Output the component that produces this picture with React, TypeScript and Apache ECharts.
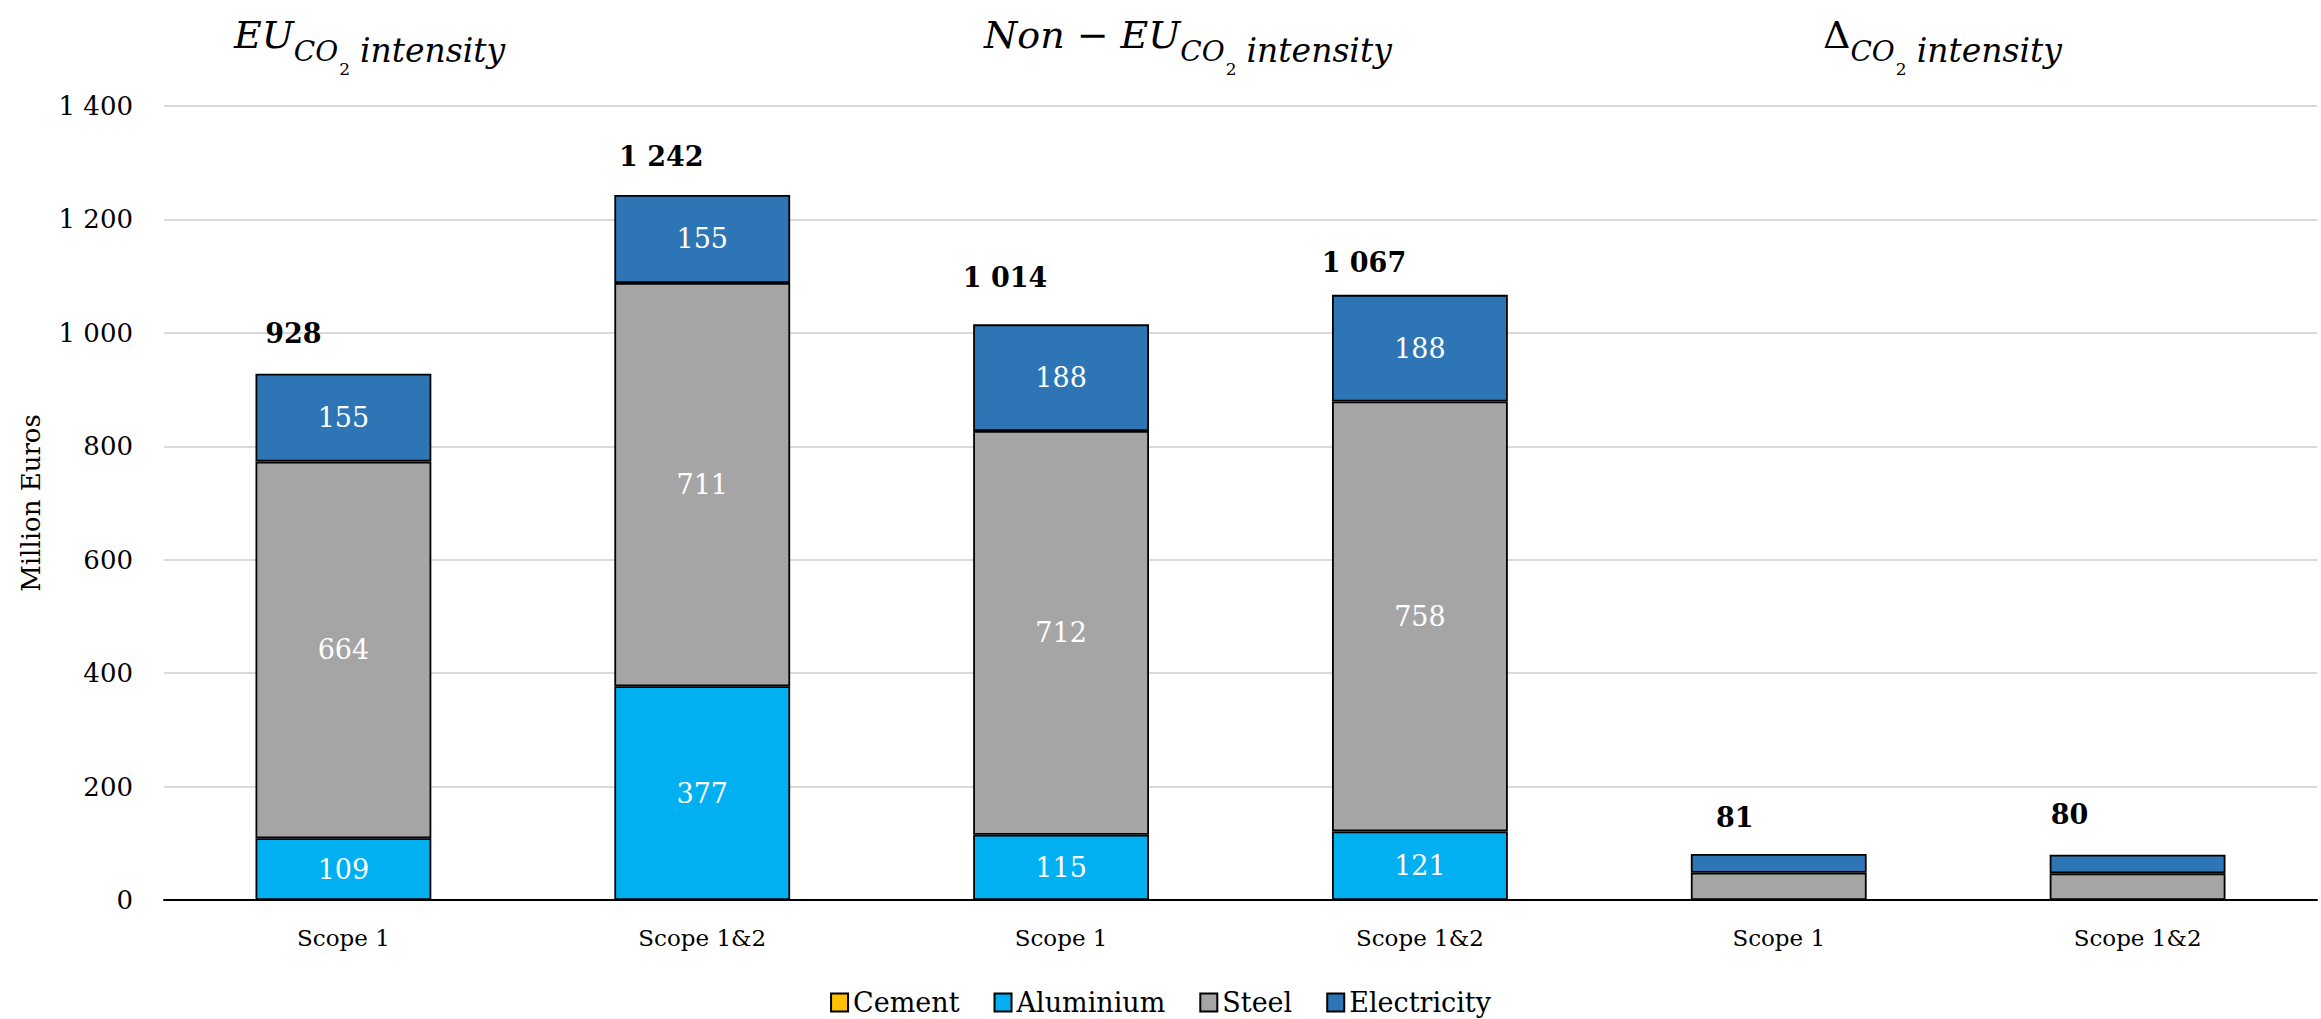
import React, { useEffect, useRef } from "react";
import * as echarts from "echarts";

const categories = ["Scope 1", "Scope 1&2", "Scope 1", "Scope 1&2", "Scope 1", "Scope 1&2"];
const cement = [0, 0, 0, 0, 0, 0];
const aluminium = [109, 377, 115, 121, 0, 0];
const steel = [664, 711, 712, 758, 48, 47];
const electricity = [155, 155, 188, 188, 33, 33];
const totals = [928, 1242, 1014, 1067, 81, 80];
const yTicks = [0, 200, 400, 600, 800, 1000, 1200, 1400];

// label placement (style only)
const totalLabelOffsets: [number, number][] = [
  [-50, -40], [-41, -39], [-56, -47], [-56, -32], [-44, -37], [-68, -40],
];

const SERIF = "DejaVu Serif";
const fmt = (v: number) => String(v).replace(/\B(?=(\d{3})+(?!\d))/g, " ");

const titleRich = {
  a: { fontSize: 38, fontStyle: "italic", fontFamily: SERIF, color: "#000", verticalAlign: "bottom", lineHeight: 45, padding: [0, 0, 23, 0] },
  m: { fontSize: 38, fontFamily: SERIF, color: "#000", verticalAlign: "bottom", lineHeight: 45, padding: [0, 0, 23, 0] },
  b: { fontSize: 28, fontStyle: "italic", fontFamily: SERIF, color: "#000", verticalAlign: "bottom", lineHeight: 33, padding: [0, 0, 12, 0] },
  d: { fontSize: 33, fontStyle: "italic", fontFamily: SERIF, color: "#000", verticalAlign: "bottom", lineHeight: 38, padding: [0, 0, 10, 0] },
  c: { fontSize: 17, fontFamily: SERIF, color: "#000", verticalAlign: "bottom", lineHeight: 19, padding: [0, 10, 0, 1] },
};

export default function App() {
  const ref = useRef<HTMLDivElement>(null);
  useEffect(() => {
    document.body.style.margin = "0";
    const chart = echarts.init(ref.current!, null, { renderer: "svg" });
    const segLabel = {
      show: true,
      position: "inside",
      color: "#fff",
      fontFamily: SERIF,
      fontSize: 27,
      formatter: (p: any) => (p.value >= 100 ? String(p.value) : ""),
    };
    const barStyle = (color: string) => ({ color, borderColor: "#000", borderWidth: 1.8 });
    chart.setOption({
      animation: false,
      backgroundColor: "#fff",
      grid: { left: 164, right: 4, top: 106, bottom: 119, containLabel: false },
      legend: {
        left: "center",
        top: 984,
        icon: "rect",
        itemWidth: 17,
        itemHeight: 18,
        itemGap: 34,
        textStyle: { fontFamily: SERIF, fontSize: 27, color: "#000" },
        data: ["Cement", "Aluminium", "Steel", "Electricity"],
      },
      xAxis: {
        type: "category",
        data: categories,
        axisLine: { lineStyle: { color: "#000", width: 2 } },
        axisTick: { show: false },
        axisLabel: { fontFamily: SERIF, fontSize: 23, color: "#000", margin: 26 },
      },
      yAxis: {
        type: "value",
        min: 0,
        max: 1400,
        interval: 200,
        name: "Million Euros",
        nameLocation: "middle",
        nameGap: 120,
        nameTextStyle: { fontFamily: SERIF, fontSize: 26, color: "#000" },
        axisLine: { show: false },
        axisTick: { show: false },
        splitLine: { lineStyle: { color: "#D9D9D9", width: 2 } },
        axisLabel: {
          fontFamily: SERIF,
          fontSize: 26,
          color: "#000",
          margin: 31,
          formatter: (v: number) => (yTicks.includes(v) ? fmt(v) : ""),
        },
      },
      series: [
        { name: "Cement", type: "bar", stack: "s", barWidth: "49%", data: cement, itemStyle: barStyle("#FFC000"), label: { show: false } },
        { name: "Aluminium", type: "bar", stack: "s", data: aluminium, itemStyle: barStyle("#00B0F0"), label: segLabel },
        { name: "Steel", type: "bar", stack: "s", data: steel, itemStyle: barStyle("#A5A5A5"), label: segLabel },
        { name: "Electricity", type: "bar", stack: "s", data: electricity, itemStyle: barStyle("#2E75B6"), label: segLabel },
        {
          name: "Total",
          type: "scatter",
          symbolSize: 0,
          silent: true,
          itemStyle: { color: "#000", opacity: 1 },
          data: totals.map((v, i) => ({
            value: v,
            label: { offset: totalLabelOffsets[i] },
          })),
          label: {
            show: true,
            position: "inside",
            fontFamily: SERIF,
            fontWeight: "bold",
            fontSize: 27,
            color: "#000",
            textBorderWidth: 0,
            formatter: (p: any) => fmt(p.value),
          },
        },
      ],
      graphic: [
        { type: "text", left: 234, top: 16, style: { text: "{a|EU}{b|CO}{c|2}{d|intensity}", rich: titleRich } },
        { type: "text", left: 984, top: 16, style: { text: "{a|Non }{m|−}{a| EU}{b|CO}{c|2}{d|intensity}", rich: titleRich } },
        { type: "text", left: 1823, top: 16, style: { text: "{m|Δ}{b|CO}{c|2}{d|intensity}", rich: titleRich } },
      ],
    });
    return () => chart.dispose();
  }, []);
  return <div ref={ref} style={{ position: "fixed", left: 0, top: 0, width: 2321, height: 1019 }} />;
}
